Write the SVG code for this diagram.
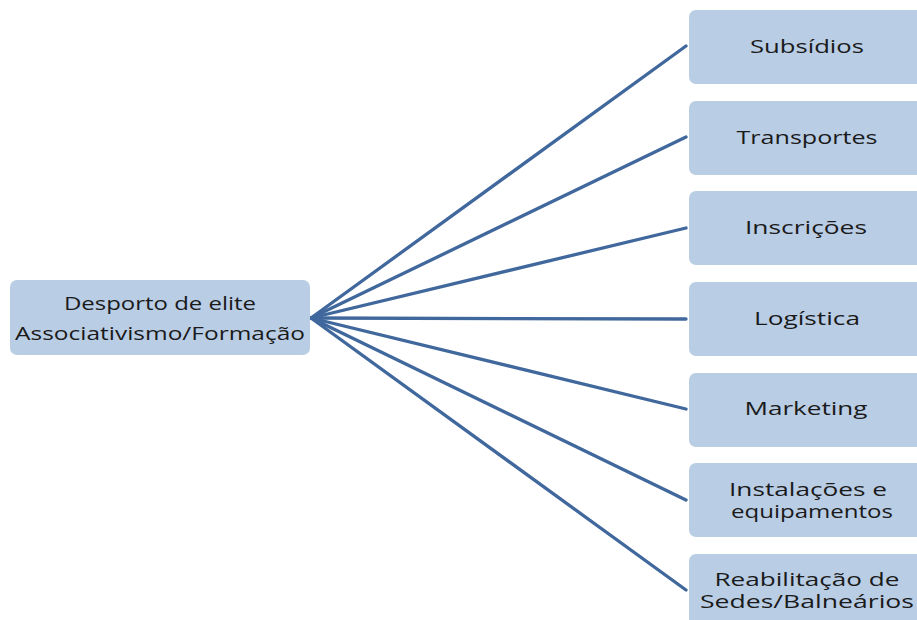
<svg xmlns="http://www.w3.org/2000/svg" width="917" height="620" viewBox="0 0 917 620">
  <style>
    .box { fill: #B9CDE5; }
    .lbl { font-family: "Open Sans", "Liberation Sans", sans-serif; font-size: 18px; fill: #1a1a1a; text-anchor: middle; }
    .conn { stroke: #41689D; stroke-width: 3.3; fill: none; stroke-linecap: round; }
  </style>
  <rect width="917" height="620" fill="#ffffff"/>

  <g id="connectors">
    <line class="conn" x1="311" y1="318" x2="686" y2="46"/>
    <line class="conn" x1="311" y1="318" x2="686" y2="137"/>
    <line class="conn" x1="311" y1="318" x2="686" y2="228"/>
    <line class="conn" x1="311" y1="318" x2="686" y2="319"/>
    <line class="conn" x1="311" y1="318" x2="686" y2="409"/>
    <line class="conn" x1="311" y1="318" x2="686" y2="500"/>
    <line class="conn" x1="311" y1="318" x2="686" y2="590"/>
  </g>

  <g id="root">
    <rect class="box" x="10" y="280" width="300" height="75" rx="7"/>
    <text class="lbl" x="160" y="310" textLength="192" lengthAdjust="spacingAndGlyphs">Desporto de elite</text>
    <text class="lbl" x="160" y="340" textLength="290" lengthAdjust="spacingAndGlyphs">Associativismo/Formação</text>
  </g>

  <g id="subsidios">
    <rect class="box" x="689" y="10" width="240" height="74" rx="7"/>
    <text class="lbl" x="807" y="53" textLength="114" lengthAdjust="spacingAndGlyphs">Subsídios</text>
  </g>
  <g id="transportes">
    <rect class="box" x="689" y="101" width="240" height="74" rx="7"/>
    <text class="lbl" x="807" y="143.5" textLength="141" lengthAdjust="spacingAndGlyphs">Transportes</text>
  </g>
  <g id="inscricoes">
    <rect class="box" x="689" y="191" width="240" height="74" rx="7"/>
    <text class="lbl" x="806" y="234" textLength="122" lengthAdjust="spacingAndGlyphs">Inscrições</text>
  </g>
  <g id="logistica">
    <rect class="box" x="689" y="282" width="240" height="74" rx="7"/>
    <text class="lbl" x="807" y="325" textLength="106" lengthAdjust="spacingAndGlyphs">Logística</text>
  </g>
  <g id="marketing">
    <rect class="box" x="689" y="373" width="240" height="74" rx="7"/>
    <text class="lbl" x="806" y="415" textLength="123" lengthAdjust="spacingAndGlyphs">Marketing</text>
  </g>
  <g id="instalacoes">
    <rect class="box" x="689" y="463" width="240" height="74" rx="7"/>
    <text class="lbl" x="808" y="496" textLength="158" lengthAdjust="spacingAndGlyphs">Instalações e</text>
    <text class="lbl" x="812" y="518" textLength="162" lengthAdjust="spacingAndGlyphs">equipamentos</text>
  </g>
  <g id="reabilitacao">
    <rect class="box" x="689" y="554" width="240" height="80" rx="7"/>
    <text class="lbl" x="807" y="586" textLength="185" lengthAdjust="spacingAndGlyphs">Reabilitação de</text>
    <text class="lbl" x="807" y="608" textLength="214" lengthAdjust="spacingAndGlyphs">Sedes/Balneários</text>
  </g>
</svg>
